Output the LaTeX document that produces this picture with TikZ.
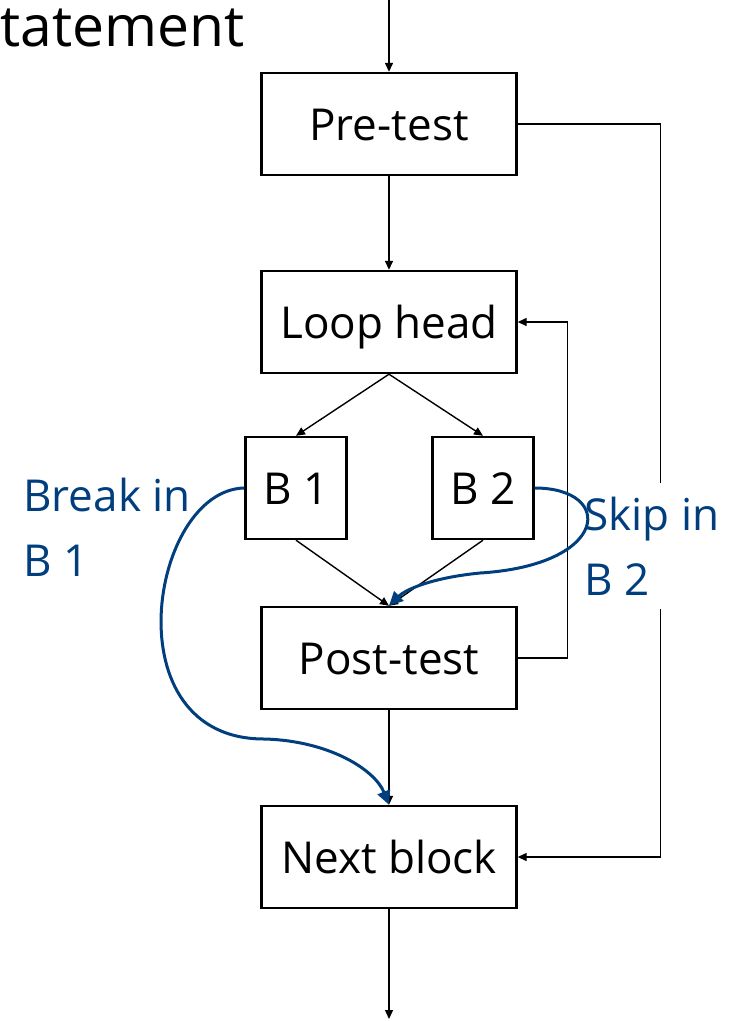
\documentclass[tikz,border=0pt]{standalone}
\usepackage{fontspec}
\setmainfont{Open Sans}
\usepackage{xcolor}
\usetikzlibrary{arrows.meta}
\definecolor{jumpblue}{RGB}{0,62,126}
\tikzstyle{blockbox} = [draw=black, fill=white, line width=2.4pt,
rectangle, minimum width=255pt, minimum height=102pt, inner sep=0pt,
text height=34pt, text depth=2pt,
font=\fontsize{44}{52}\selectfont]
\tikzstyle{smallbox} = [blockbox, minimum width=101pt]
\tikzstyle{flow} = [line width=1.4pt, -{Triangle[length=9pt,width=8pt]}]
\tikzstyle{jump} = [draw=jumpblue, line width=3pt, -{Triangle[length=14pt,width=13pt]}]
\tikzstyle{jumplabel} = [text=jumpblue, align=left, font=\fontsize{44}{65}\selectfont]

\begin{document}
\begin{tikzpicture}[x=1pt,y=-1pt]
        \useasboundingbox (0,0) rectangle (735,1021);
        \node[anchor=base west, inner sep=0pt, font=\fontsize{57}{62}\selectfont] (title) at (0,46) {tatement};
        \node[blockbox] (pretest) at (389,124) {Pre-test};
        \node[blockbox] (loophead) at (389,322) {Loop head};
        \node[smallbox] (bone) at (296,488) {B 1};
        \node[smallbox] (btwo) at (483,488) {B 2};
        \node[blockbox] (posttest) at (389,658) {Post-test};
        \node[blockbox] (nextblock) at (389,857) {Next block};
        \coordinate (entry) at (389,0);
        \coordinate (exit) at (389,1019);
        \draw[flow] (entry) -- (pretest);
        \draw[flow] (pretest) -- (loophead);
        \draw[flow] (loophead.south) -- (bone.north);
        \draw[flow] (loophead.south) -- (btwo.north);
        \draw[flow] (bone.south) -- (posttest.north);
        \draw[flow] (btwo.south) -- (posttest.north);
        \draw[flow] (posttest) -- (nextblock);
        \draw[flow] (nextblock) -- (exit);
        \draw[flow] (posttest.east) -- ++(50,0) |- (loophead.east);
        \draw[flow] (pretest.east) -- ++(143,0) |- (nextblock.east);
        % jumps out of the loop body
        \node[jumplabel] (breaklabel) at (107,527) {Break in\\B 1};
        \node[jumplabel, fill=white, inner xsep=6pt, inner ysep=14pt] (skiplabel) at (652,546) {Skip in\\B 2};
        \draw[jump] (bone.west) .. controls (150,490) and (110,740) .. (265,739)
            .. controls (330,741) and (375,770) .. (nextblock.north);
        \draw[jump] (btwo.east) .. controls (615,488) and (610,565) .. (480,573)
            .. controls (430,578) and (405,590) .. (posttest.north);
    \end{tikzpicture}
\end{document}
